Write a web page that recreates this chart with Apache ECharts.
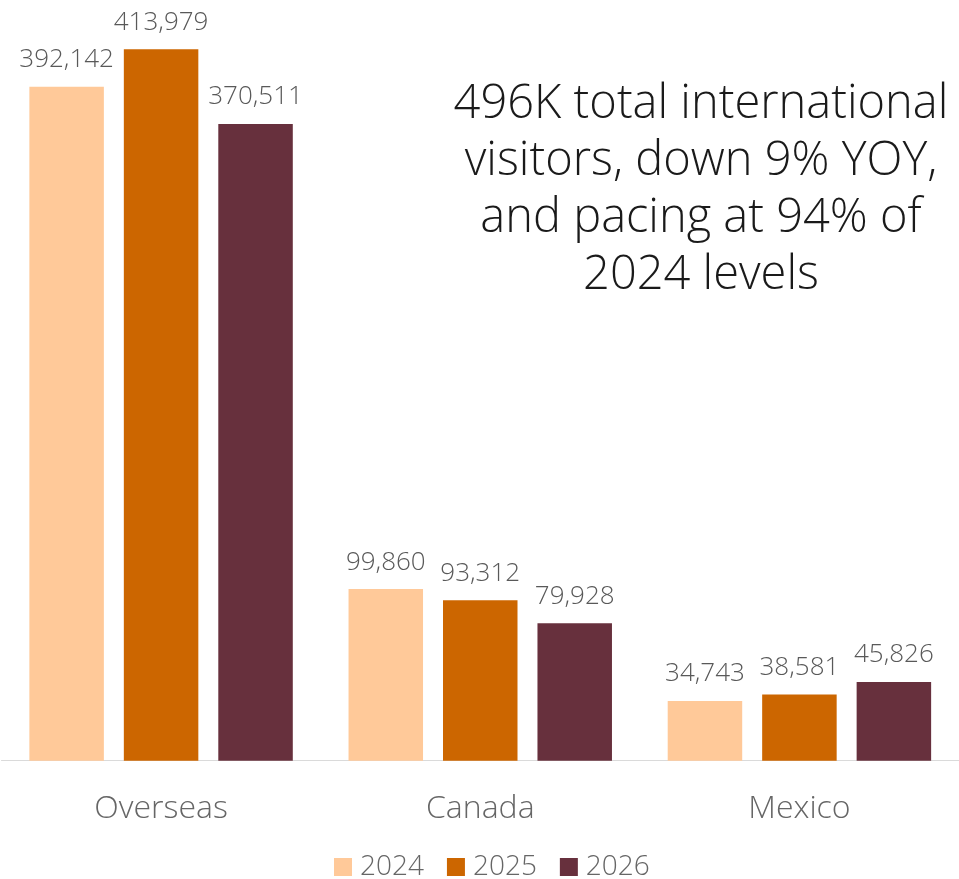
<!DOCTYPE html>
<html>
<head>
<meta charset="utf-8">
<script src="https://cdn.jsdelivr.net/npm/echarts@6/dist/echarts.min.js"></script>
<style>
html,body{margin:0;padding:0;background:#fff;}
#chart{width:959px;height:879px;}
</style>
</head>
<body>
<div id="chart"></div>
<script>
const categories = ['Overseas', 'Canada', 'Mexico'];
const seriesNames = ['2024', '2025', '2026'];
const values2024 = [392142, 99860, 34743];
const values2025 = [413979, 93312, 38581];
const values2026 = [370511, 79928, 45826];
const colors = ['#FFC999', '#CC6600', '#67303D'];
const annotationLines = [
  '496K total international',
  'visitors, down 9% YOY,',
  'and pacing at 94% of',
  '2024 levels'
];

const FONT = '"Open Sans", "Segoe UI", sans-serif';
const allValues = [values2024, values2025, values2026];

const chart = echarts.init(document.getElementById('chart'), null, {renderer: 'canvas'});
const option = {
  animation: false,
  backgroundColor: '#ffffff',
  color: colors,
  grid: {left: 1.5, width: 960, top: 39, bottom: 118.3, containLabel: false},
  legend: {
    data: seriesNames,
    left: 334,
    top: 853,
    padding: 0,
    icon: 'rect',
    itemWidth: 18,
    itemHeight: 18,
    itemGap: 23,
    textStyle: {fontFamily: FONT, fontSize: 28, fontWeight: 300, color: '#666666', padding: [0, 0, 0, 3]}
  },
  xAxis: {
    type: 'category',
    data: categories,
    axisLine: {show: true, lineStyle: {color: '#DADADA', width: 1}},
    axisTick: {show: false},
    axisLabel: {fontFamily: FONT, fontSize: 32, fontWeight: 300, color: '#666666', margin: 32}
  },
  yAxis: {
    type: 'value',
    min: 0,
    max: 420000,
    show: false,
    splitLine: {show: false}
  },
  graphic: [{
    type: 'text',
    x: 701,
    y: 76,
    style: {
      text: annotationLines.join('\n'),
      textAlign: 'center',
      textVerticalAlign: 'top',
      fontFamily: FONT,
      fontSize: 47,
      fontWeight: 300,
      lineHeight: 57,
      fill: '#1a1a1a'
    }
  }],
  series: seriesNames.map((name, i) => ({
    name: name,
    type: 'bar',
    data: allValues[i],
    barWidth: 74.5,
    barGap: '26.8%',
    itemStyle: {color: colors[i]},
    label: {
      show: true,
      position: 'top',
      distance: 14,
      fontFamily: FONT,
      fontSize: 26,
      fontWeight: 300,
      color: '#595959',
      formatter: p => p.value.toLocaleString('en-US')
    }
  }))
};
chart.setOption(option);
</script>
</body>
</html>
